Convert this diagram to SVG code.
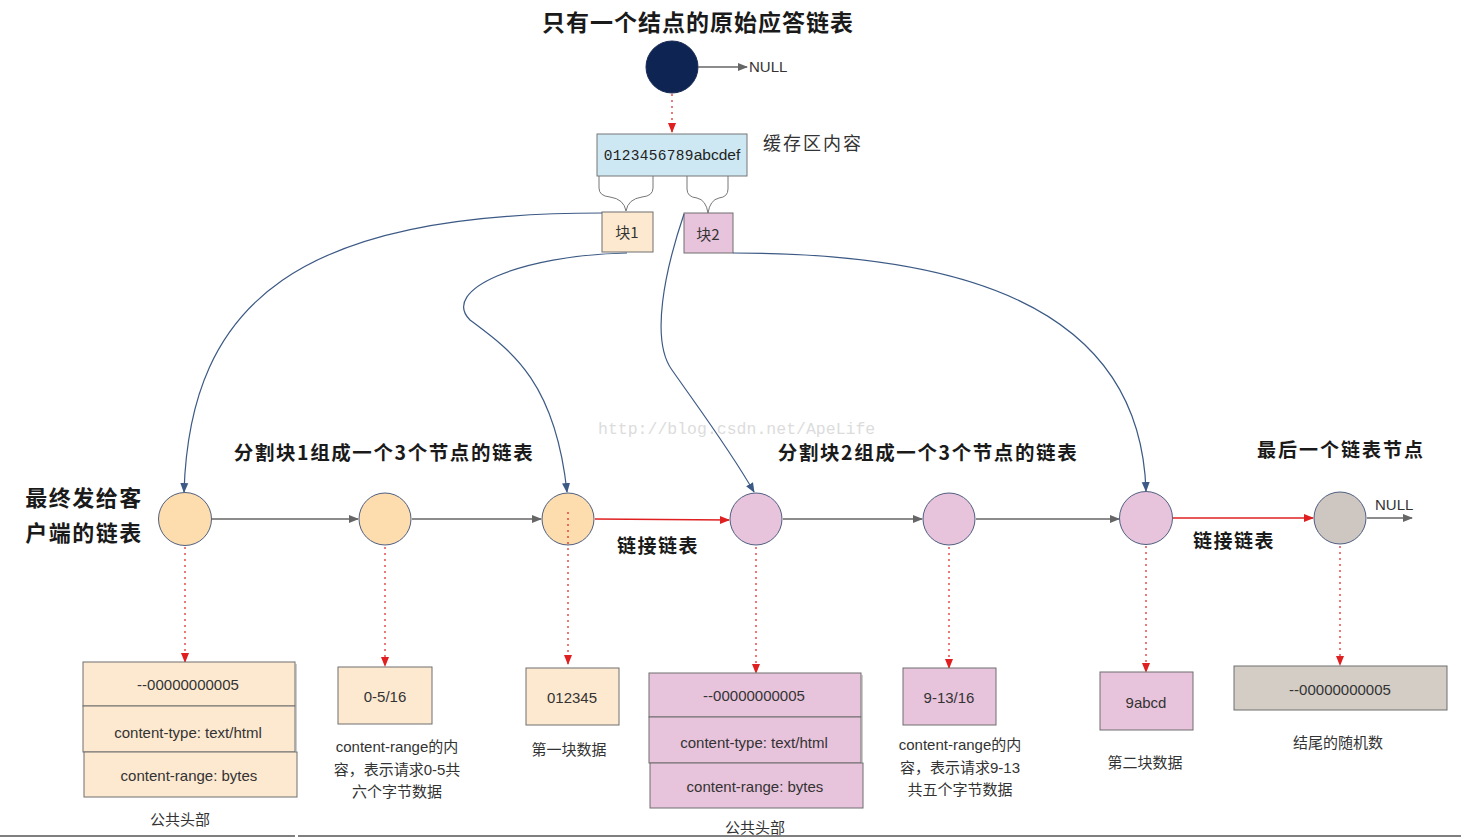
<svg xmlns="http://www.w3.org/2000/svg" width="1461" height="838" viewBox="0 0 1461 838">
<style>
.title{font-family:"Noto Sans CJK SC",sans-serif;font-weight:bold;fill:#1a1a1a}
.cap{font-family:"Liberation Sans","Noto Sans CJK SC",sans-serif;font-size:15px;fill:#333}
.box{stroke:#6e6e6e;stroke-width:1}
.peach{fill:#fde9d0}
.pink{fill:#e8c3dc}
.gray{fill:#d4cdc6}
.node{stroke:#4f5f80;stroke-width:1}
.gline{stroke:#666;stroke-width:1.3;fill:none}
.rline{stroke:#e02020;stroke-width:1.5;fill:none}
.dot{stroke:#e02020;stroke-width:1.2;stroke-dasharray:2,4;fill:none}
.curve{stroke:#3c5a85;stroke-width:1.2;fill:none}
.brace{stroke:#777;stroke-width:1;fill:none}
</style>
<defs>
<marker id="ag" markerWidth="10" markerHeight="10" refX="9" refY="5" orient="auto" markerUnits="userSpaceOnUse"><path d="M0,1 L10,5 L0,9 Z" fill="#666"/></marker>
<marker id="ar" markerWidth="10" markerHeight="10" refX="9" refY="5" orient="auto" markerUnits="userSpaceOnUse"><path d="M0,1 L10,5 L0,9 Z" fill="#e02020"/></marker>
<marker id="ab" markerWidth="10" markerHeight="10" refX="9" refY="5" orient="auto" markerUnits="userSpaceOnUse"><path d="M0,1 L10,5 L0,9 Z" fill="#3c5a85"/></marker>
</defs>
<rect width="1461" height="838" fill="#fff"/>

<text x="598" y="434" font-family="Liberation Mono,monospace" font-size="16.5" fill="#dcdcdc">http://blog.csdn.net/ApeLife</text>

<text class="title" x="698" y="31" font-size="23" letter-spacing="1" text-anchor="middle">只有一个结点的原始应答链表</text>

<g id="root-node">
<circle cx="672" cy="67" r="26" fill="#0e2452" stroke="#1a2a55"/>
</g>
<text x="749" y="72" font-family="Liberation Sans,sans-serif" font-size="15" fill="#333">NULL</text>

<g id="buffer">
<rect x="597" y="134" width="150" height="42" fill="#cde8f2" stroke="#777"/>
<text x="672" y="160" font-size="15" fill="#222" text-anchor="middle"><tspan font-family="Liberation Mono,monospace" font-size="14.5" letter-spacing="0.3">0123456789</tspan><tspan font-family="Liberation Sans,sans-serif" font-size="15.5">abcdef</tspan></text>
</g>
<text x="763" y="150" font-family="Noto Sans CJK SC,sans-serif" font-size="18" letter-spacing="2" fill="#333">缓存区内容</text>

<g id="braces">
<path class="brace" d="M599,176 L599,188 Q599,196 610,197 Q624,199 626,211 Q628,199 642,197 Q653,196 653,188 L653,176"/>
<path class="brace" d="M687,176 L687,189 Q687,197 697,198 Q706,200 708,213 Q710,200 719,198 Q728,197 728,189 L728,176"/>
</g>

<g id="block1">
<rect class="box peach" x="602" y="212" width="51" height="40"/>
<text x="627" y="238" font-family="Noto Sans CJK SC,sans-serif" font-size="15" fill="#333" text-anchor="middle">块1</text>
</g>
<g id="block2">
<rect class="box pink" x="684" y="213" width="49" height="40"/>
<text x="708" y="240" font-family="Noto Sans CJK SC,sans-serif" font-size="15" fill="#333" text-anchor="middle">块2</text>
</g>

<g id="labels">
<text class="title" x="384" y="460" font-size="19.5" letter-spacing="1.6" text-anchor="middle">分割块1组成一个3个节点的链表</text>
<text class="title" x="928" y="460" font-size="19.5" letter-spacing="1.6" text-anchor="middle">分割块2组成一个3个节点的链表</text>
<text class="title" x="1341" y="457" font-size="19" letter-spacing="2" text-anchor="middle">最后一个链表节点</text>
<text class="title" x="84" y="506" font-size="22" letter-spacing="1.5" text-anchor="middle">最终发给客</text>
<text class="title" x="84" y="541" font-size="22" letter-spacing="1.5" text-anchor="middle">户端的链表</text>
<text class="title" x="658" y="553" font-size="19" letter-spacing="1.5" text-anchor="middle">链接链表</text>
<text class="title" x="1234" y="548" font-size="19" letter-spacing="1.5" text-anchor="middle">链接链表</text>
</g>

<g id="connectors">
<line class="gline" x1="698" y1="67" x2="747" y2="67" marker-end="url(#ag)"/>
<line class="dot" x1="672" y1="94" x2="672" y2="132" marker-end="url(#ar)"/>
<path class="curve" d="M602,213 C300,213 190,300 184,492" marker-end="url(#ab)"/>
<path class="curve" d="M627,253 C520,255 440,290 470,320 C510,350 555,380 567,492" marker-end="url(#ab)"/>
<path class="curve" d="M684,214 C665,270 650,340 672,370 C700,410 730,450 754,492" marker-end="url(#ab)"/>
<path class="curve" d="M733,253 C950,253 1140,300 1146,491" marker-end="url(#ab)"/>
<line class="gline" x1="212" y1="519" x2="358" y2="519" marker-end="url(#ag)"/>
<line class="gline" x1="412" y1="519" x2="541" y2="519" marker-end="url(#ag)"/>
<line class="rline" x1="595" y1="519" x2="729" y2="520" marker-end="url(#ar)"/>
<line class="gline" x1="783" y1="519" x2="922" y2="519" marker-end="url(#ag)"/>
<line class="gline" x1="976" y1="519" x2="1119" y2="519" marker-end="url(#ag)"/>
<line class="rline" x1="1173" y1="518" x2="1313" y2="518" marker-end="url(#ar)"/>
<line class="gline" x1="1367" y1="518" x2="1412" y2="518" marker-end="url(#ag)"/>
<line class="dot" x1="185" y1="547" x2="185" y2="662" marker-end="url(#ar)"/>
<line class="dot" x1="385" y1="547" x2="385" y2="666" marker-end="url(#ar)"/>
<line class="dot" x1="568" y1="512" x2="568" y2="664" marker-end="url(#ar)"/>
<line class="dot" x1="756" y1="547" x2="756" y2="673" marker-end="url(#ar)"/>
<line class="dot" x1="949" y1="547" x2="949" y2="668" marker-end="url(#ar)"/>
<line class="dot" x1="1146" y1="546" x2="1146" y2="672" marker-end="url(#ar)"/>
<line class="dot" x1="1340" y1="546" x2="1340" y2="665" marker-end="url(#ar)"/>
</g>
<text x="1375" y="510" font-family="Liberation Sans,sans-serif" font-size="15" fill="#333">NULL</text>

<g id="n1"><circle class="node" cx="185" cy="519" r="26.5" fill="#fddcae"/></g>
<g id="n2"><circle class="node" cx="385" cy="519" r="26" fill="#fddcae"/></g>
<g id="n3"><circle class="node" cx="568" cy="519" r="26" fill="#fddcae"/></g>
<g id="n4"><circle class="node" cx="756" cy="519" r="26" fill="#e8c3dc"/></g>
<g id="n5"><circle class="node" cx="949" cy="519" r="26" fill="#e8c3dc"/></g>
<g id="n6"><circle class="node" cx="1146" cy="518" r="26.5" fill="#e8c3dc"/></g>
<g id="n7"><circle class="node" cx="1340" cy="518" r="26" fill="#cdc6c1"/></g>
<line class="dot" x1="568" y1="512" x2="568" y2="545"/>

<g id="header1">
<rect class="box peach" x="83" y="662" width="212" height="44"/>
<rect class="box peach" x="83" y="706" width="212" height="46"/>
<rect class="box peach" x="84" y="752" width="213" height="45"/>
<line x1="296" y1="664" x2="296" y2="752" stroke="#999"/>
<text class="cap" x="188" y="690" text-anchor="middle">--00000000005</text>
<text class="cap" x="188" y="738" text-anchor="middle">content-type: text/html</text>
<text class="cap" x="189" y="781" text-anchor="middle">content-range: bytes</text>
</g>
<text class="cap" x="180" y="825" text-anchor="middle">公共头部</text>

<g id="range1">
<rect class="box peach" x="338" y="667" width="94" height="57"/>
<text class="cap" x="385" y="702" font-size="16" text-anchor="middle">0-5/16</text>
</g>
<text class="cap" x="397" y="752" text-anchor="middle">content-range的内</text>
<text class="cap" x="397" y="775" text-anchor="middle">容，表示请求0-5共</text>
<text class="cap" x="397" y="797" text-anchor="middle">六个字节数据</text>

<g id="data1">
<rect class="box peach" x="526" y="668" width="93" height="57"/>
<text class="cap" x="572" y="703" font-size="16" text-anchor="middle">012345</text>
</g>
<text class="cap" x="569" y="755" text-anchor="middle">第一块数据</text>

<g id="header2">
<rect class="box pink" x="649" y="673" width="212" height="44"/>
<rect class="box pink" x="649" y="717" width="212" height="46"/>
<rect class="box pink" x="650" y="763" width="213" height="45"/>
<line x1="862" y1="675" x2="862" y2="763" stroke="#999"/>
<text class="cap" x="754" y="701" text-anchor="middle">--00000000005</text>
<text class="cap" x="754" y="748" text-anchor="middle">content-type: text/html</text>
<text class="cap" x="755" y="792" text-anchor="middle">content-range: bytes</text>
</g>
<text class="cap" x="755" y="833" text-anchor="middle">公共头部</text>

<g id="range2">
<rect class="box pink" x="903" y="668" width="93" height="57"/>
<text class="cap" x="949" y="703" font-size="16" text-anchor="middle">9-13/16</text>
</g>
<text class="cap" x="960" y="750" text-anchor="middle">content-range的内</text>
<text class="cap" x="960" y="773" text-anchor="middle">容，表示请求9-13</text>
<text class="cap" x="960" y="795" text-anchor="middle">共五个字节数据</text>

<g id="data2">
<rect class="box pink" x="1100" y="672" width="93" height="58"/>
<text class="cap" x="1146" y="708" font-size="16" text-anchor="middle">9abcd</text>
</g>
<text class="cap" x="1145" y="768" text-anchor="middle">第二块数据</text>

<g id="tail">
<rect class="box gray" x="1234" y="666" width="213" height="44"/>
<text class="cap" x="1340" y="695" text-anchor="middle">--00000000005</text>
</g>
<text class="cap" x="1338" y="748" text-anchor="middle">结尾的随机数</text>

<line x1="0" y1="836" x2="295" y2="836" stroke="#555" stroke-width="1.5"/>
<line x1="298" y1="836" x2="1461" y2="836" stroke="#555" stroke-width="1.5"/>
</svg>
